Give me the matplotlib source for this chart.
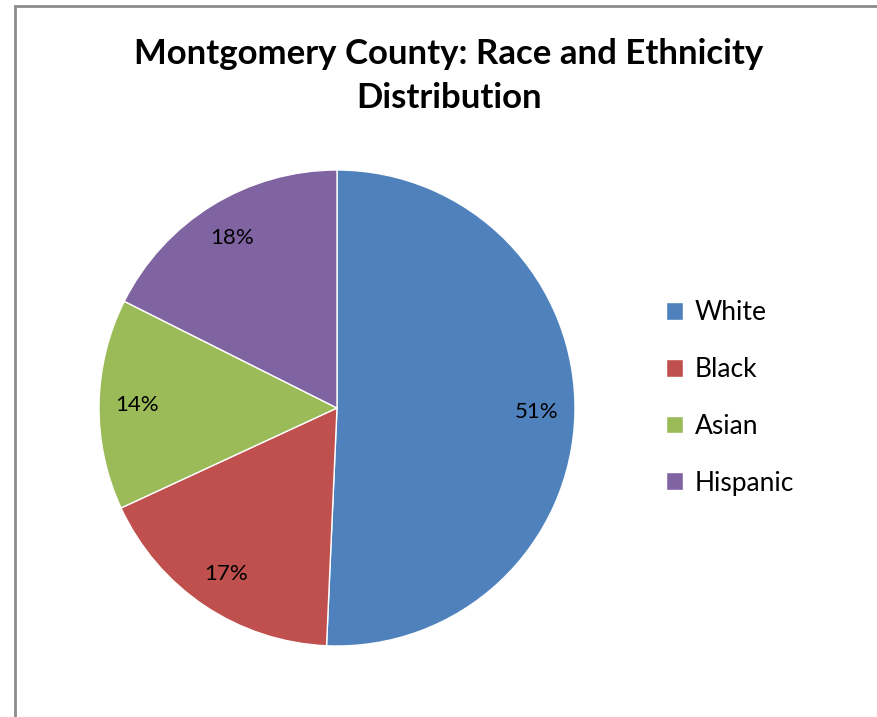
import matplotlib
matplotlib.use("Agg")
import matplotlib.pyplot as plt
from matplotlib.patches import Rectangle

categories = ["White", "Black", "Asian", "Hispanic"]
shares = [50.7, 17.4, 14.3, 17.6]
colors = ["#4F81BD", "#C0504D", "#9BBB59", "#8064A2"]
title = "Montgomery County: Race and Ethnicity\nDistribution"


def main():
    plt.rcParams["font.family"] = ["Lato", "DejaVu Sans"]
    W, H = 877, 717
    fig = plt.figure(figsize=(W / 100, H / 100), dpi=100)

    # outer chart frame (runs off the right/bottom edge)
    fig.patches.append(Rectangle((15 / W, -0.1), 1.2, 0.1 + (H - 6) / H,
                                 transform=fig.transFigure, fill=False,
                                 edgecolor="#8c8c8c", lw=2))

    cx, cy, r = 337, 408, 238
    ax = fig.add_axes([(cx - r) / W, (H - cy - r) / H, 2 * r / W, 2 * r / H])
    wedges, _, pcts = ax.pie(shares, colors=colors, startangle=90, counterclock=False,
                             autopct="%.0f%%", pctdistance=0.84,
                             wedgeprops=dict(edgecolor="white", linewidth=1),
                             textprops=dict(fontsize=16, color="black"))
    ax.set_xlim(-1, 1)
    ax.set_ylim(-1, 1)
    ax.set_aspect("equal")

    fig.text(449 / W, 1 - 76 / H, title, ha="center", va="center",
             fontsize=25, fontweight="bold", linespacing=1.45)

    fig.legend(wedges, categories, loc="center left",
               bbox_to_anchor=(642 / W, 1 - 398 / H), frameon=False,
               fontsize=19, handlelength=0.65, handleheight=0.65,
               handletextpad=0.45, labelspacing=1.2)

    fig.savefig("out.png", dpi=100)


if __name__ == "__main__":
    main()
